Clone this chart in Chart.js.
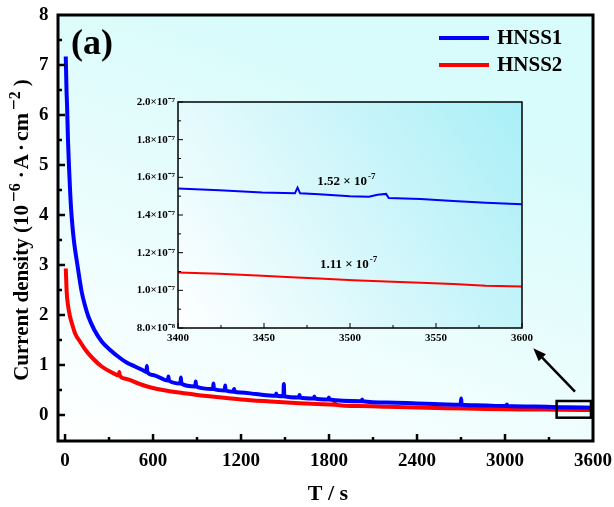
<!DOCTYPE html>
<html>
<head>
<meta charset="utf-8">
<script src="https://cdn.jsdelivr.net/npm/chart.js@4.4.1/dist/chart.umd.min.js"></script>
<style>
    html, body { margin: 0; padding: 0; background: #fff; }
    #wrap { position: relative; width: 614px; height: 507px; }
    #main { position: absolute; left: 0; top: 0; width: 614px; height: 507px; }
    #inset { position: absolute; left: 100px; top: 90px; width: 440px; height: 265px; }
</style>
</head>
<body>
<div id="wrap">
    <canvas id="main" width="614" height="507"></canvas>
    <canvas id="inset" width="440" height="265"></canvas>
</div>
<script>
// main curves: time (s) and current density (10^-6 A/cm2)
const blueT = [5, 10, 14, 20, 27, 35, 45, 60, 86, 113, 135, 159, 200, 250, 300, 370, 420, 477, 540,
    555, 558, 561, 600, 702, 705, 708, 787, 790, 793, 888, 891, 894, 1009, 1012, 1015, 1089, 1092, 1095,
    1150, 1153, 1156, 1200, 1300, 1437, 1440, 1443, 1489, 1492, 1495, 1596, 1599, 1602, 1697, 1700, 1703,
    1796, 1799, 1802, 2023, 2026, 2029, 2200, 2400, 2600, 2698, 2701, 2704, 2800, 3010, 3013, 3016,
    3200, 3400, 3600];
const blueJ = [7.17, 6.50, 6.17, 5.50, 4.97, 4.45, 3.97, 3.50, 2.97, 2.47, 2.20, 1.97, 1.70, 1.47, 1.32, 1.15, 1.05, 0.97, 0.88,
    0.86, 0.98, 0.86, 0.80, 0.69, 0.77, 0.69, 0.63, 0.75, 0.63, 0.57, 0.67, 0.57, 0.52, 0.63, 0.52, 0.49, 0.59, 0.49,
    0.465, 0.52, 0.465, 0.45, 0.42, 0.385, 0.43, 0.385, 0.375, 0.62, 0.375, 0.35, 0.40, 0.35, 0.33, 0.37, 0.33,
    0.31, 0.35, 0.31, 0.275, 0.31, 0.275, 0.25, 0.23, 0.21, 0.205, 0.33, 0.205, 0.195, 0.18, 0.21, 0.18,
    0.17, 0.155, 0.146];

const redT = [5, 8, 11, 20, 34, 50, 70, 102, 140, 190, 250, 320, 367, 370, 373, 420, 500, 600, 727, 800,
    900, 1000, 1100, 1200, 1400, 1600, 1800, 1836, 1839, 1842, 2000, 2200, 2400, 2600, 2800, 3000, 3200,
    3259, 3262, 3265, 3400, 3600];
const redJ = [2.93, 2.70, 2.47, 2.20, 1.97, 1.80, 1.62, 1.47, 1.30, 1.13, 0.97, 0.85, 0.79, 0.86, 0.79, 0.72, 0.63, 0.54, 0.47, 0.44,
    0.40, 0.37, 0.34, 0.31, 0.27, 0.235, 0.21, 0.205, 0.27, 0.205, 0.18, 0.165, 0.15, 0.135, 0.125, 0.115, 0.11,
    0.108, 0.16, 0.108, 0.105, 0.10];

// inset: 3400-3600 s, current in 10^-7 A/cm2
const insetBlueT = [3400, 3424, 3449, 3468, 3469.5, 3471, 3482, 3500, 3511, 3516, 3521, 3522.5, 3541, 3560, 3579, 3600];
const insetBlueJ = [1.541, 1.532, 1.520, 1.516, 1.545, 1.515, 1.510, 1.500, 1.497, 1.508, 1.512, 1.490, 1.485, 1.474, 1.465, 1.457];
const insetRedT = [3400, 3424, 3449, 3466, 3482, 3502, 3521, 3541, 3560, 3579, 3600];
const insetRedJ = [1.095, 1.088, 1.077, 1.070, 1.063, 1.054, 1.047, 1.040, 1.033, 1.024, 1.021];

const xTicks = [0, 600, 1200, 1800, 2400, 3000, 3600];
const yTicks = [0, 1, 2, 3, 4, 5, 6, 7, 8];
const insetXTicks = [3400, 3450, 3500, 3550, 3600];
const insetYTicks = [0.8, 1.0, 1.2, 1.4, 1.6, 1.8, 2.0];

const seriesNames = ['HNSS1', 'HNSS2'];
const seriesColors = ['#0000ff', '#ff0000'];
const insetNotes = ['1.52 × 10', '1.11 × 10'];

const SERIF = '"Liberation Serif", "Times New Roman", serif';

function pts(xs, ys) {
    return xs.map((x, i) => ({ x: x, y: ys[i] }));
}

function line(ctx, x1, y1, x2, y2) {
    ctx.beginPath();
    ctx.moveTo(x1, y1);
    ctx.lineTo(x2, y2);
    ctx.stroke();
}

// keep the plot box where the layout padding puts it
function noEdgePad(s) {
    s.paddingLeft = 0; s.paddingRight = 0; s.paddingTop = 0; s.paddingBottom = 0;
}

const mainDeco = {
    id: 'mainDeco',
    beforeDatasetsDraw(chart) {
        const { ctx, chartArea: a } = chart;
        const g = ctx.createLinearGradient(a.left, a.bottom, a.left + a.width * 0.3, a.top);
        g.addColorStop(0, '#ffffff');
        g.addColorStop(1, '#d8fbfb');
        ctx.save();
        ctx.fillStyle = g;
        ctx.fillRect(a.left, a.top, a.width, a.height);
        ctx.restore();
    },
    afterDatasetsDraw(chart) {
        const { ctx, chartArea: a } = chart;
        const xs = chart.scales.x, ys = chart.scales.y;
        ctx.save();
        ctx.strokeStyle = '#000';
        ctx.fillStyle = '#000';

        // inward ticks
        ctx.lineWidth = 2.5;
        xTicks.forEach(v => {
            if (v >= 3600) return;
            const p = xs.getPixelForValue(v);
            line(ctx, p, a.bottom, p, a.bottom - 7);
        });
        for (let v = 300; v < 3600; v += 600) {
            const p = xs.getPixelForValue(v);
            line(ctx, p, a.bottom, p, a.bottom - 4);
        }
        yTicks.forEach(v => {
            if (v >= 8) return;
            const p = ys.getPixelForValue(v);
            line(ctx, a.left, p, a.left + 7, p);
        });
        for (let v = 0.5; v < 8; v += 1) {
            const p = ys.getPixelForValue(v);
            line(ctx, a.left, p, a.left + 4, p);
        }

        // frame
        ctx.lineWidth = 3;
        ctx.strokeRect(a.left, a.top, a.width, a.height);

        // zoom box + arrow
        ctx.lineWidth = 2.5;
        const bx1 = xs.getPixelForValue(3352), bx2 = xs.getPixelForValue(3586);
        const by1 = ys.getPixelForValue(0.28), by2 = ys.getPixelForValue(-0.054);
        ctx.strokeRect(bx1, by1, bx2 - bx1, by2 - by1);
        const tx = xs.getPixelForValue(3477), ty = ys.getPixelForValue(0.466);
        const hx = xs.getPixelForValue(3193), hy = ys.getPixelForValue(1.334);
        const ang = Math.atan2(hy - ty, hx - tx);
        line(ctx, tx, ty, hx - 8 * Math.cos(ang), hy - 8 * Math.sin(ang));
        ctx.beginPath();
        ctx.moveTo(hx, hy);
        ctx.lineTo(hx - 13 * Math.cos(ang) + 5 * Math.sin(ang), hy - 13 * Math.sin(ang) - 5 * Math.cos(ang));
        ctx.lineTo(hx - 13 * Math.cos(ang) - 5 * Math.sin(ang), hy - 13 * Math.sin(ang) + 5 * Math.cos(ang));
        ctx.closePath();
        ctx.fill();

        // legend
        ctx.lineWidth = 4;
        ctx.font = 'bold 21px ' + SERIF;
        ctx.textAlign = 'left';
        ctx.textBaseline = 'middle';
        seriesNames.forEach((n, i) => {
            const yy = 38 + i * 27;
            ctx.strokeStyle = seriesColors[i];
            line(ctx, 439, yy, 489, yy);
            ctx.fillText(n, 497, yy + 1);
        });

        // panel label
        ctx.font = 'bold 36px ' + SERIF;
        ctx.textBaseline = 'alphabetic';
        ctx.fillText('(a)', 71, 54);

        // x title
        ctx.font = 'bold 22px ' + SERIF;
        ctx.textAlign = 'center';
        ctx.textBaseline = 'middle';
        ctx.fillText('T / s', 328, 494);

        // y title with superscripts: [text, size, raise, gap before]
        const parts = [
            ['Current density (10', 21, 0, 0],
            ['\u2212', 19, -8, 3],
            ['6', 16, -8, 0],
            ['\u00b7', 21, 0, 5],
            ['A', 21, 0, 2],
            ['\u00b7', 21, 0, 3],
            ['cm', 22, 0, 3],
            ['\u2212', 19, -8, 3],
            ['2', 16, -8, 0],
            [')', 21, 0, 5]
        ];
        ctx.textAlign = 'left';
        ctx.textBaseline = 'alphabetic';
        let total = 0;
        parts.forEach(p => {
            ctx.font = 'bold ' + p[1] + 'px ' + SERIF;
            total += ctx.measureText(p[0]).width + p[3];
        });
        ctx.translate(21, 230);
        ctx.rotate(-Math.PI / 2);
        let cx = -total / 2;
        parts.forEach(p => {
            ctx.font = 'bold ' + p[1] + 'px ' + SERIF;
            cx += p[3];
            ctx.fillText(p[0], cx, 7 + p[2]);
            cx += ctx.measureText(p[0]).width;
        });
        ctx.restore();
    }
};

new Chart(document.getElementById('main').getContext('2d'), {
    type: 'line',
    data: {
        datasets: [
            { label: seriesNames[0], data: pts(blueT, blueJ), borderColor: seriesColors[0], borderWidth: 4 },
            { label: seriesNames[1], data: pts(redT, redJ), borderColor: seriesColors[1], borderWidth: 4 }
        ]
    },
    options: {
        responsive: false,
        animation: false,
        parsing: false,
        layout: { padding: { top: 15, right: 21, left: 0, bottom: 0 } },
        elements: { point: { radius: 0 }, line: { cubicInterpolationMode: 'monotone' } },
        plugins: { legend: { display: false }, tooltip: { enabled: false } },
        scales: {
            x: {
                type: 'linear', min: -48, max: 3600,
                grid: { display: false, drawTicks: false },
                border: { display: false },
                afterBuildTicks: s => { s.ticks = xTicks.map(v => ({ value: v })); },
                afterFit: s => { s.height = 66; noEdgePad(s); },
                ticks: { autoSkip: false, maxRotation: 0, padding: 9, color: '#000',
                    font: { family: SERIF, size: 19, weight: 'bold' },
                    callback: v => String(v) }
            },
            y: {
                type: 'linear', min: -0.52, max: 8,
                grid: { display: false, drawTicks: false },
                border: { display: false },
                afterBuildTicks: s => { s.ticks = yTicks.map(v => ({ value: v })); },
                afterFit: s => { s.width = 58; noEdgePad(s); },
                ticks: { autoSkip: false, padding: 9.5, color: '#000',
                    font: { family: SERIF, size: 19, weight: 'bold' },
                    callback: v => String(v) }
            }
        }
    },
    plugins: [mainDeco]
});

const insetDeco = {
    id: 'insetDeco',
    beforeDatasetsDraw(chart) {
        const { ctx, chartArea: a } = chart;
        const g = ctx.createLinearGradient(a.left, a.bottom, a.right, a.top);
        g.addColorStop(0, '#ffffff');
        g.addColorStop(1, '#a9eff7');
        ctx.save();
        ctx.fillStyle = g;
        ctx.fillRect(a.left, a.top, a.width, a.height);
        ctx.restore();
    },
    afterDatasetsDraw(chart) {
        const { ctx, chartArea: a } = chart;
        const xs = chart.scales.x, ys = chart.scales.y;
        ctx.save();
        ctx.strokeStyle = '#000';
        ctx.fillStyle = '#000';
        ctx.lineWidth = 1;
        insetXTicks.forEach(v => {
            const p = xs.getPixelForValue(v);
            line(ctx, p, a.bottom, p, a.bottom - 5);
        });
        for (let v = 3425; v < 3600; v += 50) {
            const p = xs.getPixelForValue(v);
            line(ctx, p, a.bottom, p, a.bottom - 3);
        }
        insetYTicks.forEach(v => {
            const p = ys.getPixelForValue(v);
            line(ctx, a.left, p, a.left + 5, p);
        });
        for (let v = 0.9; v < 2.0; v += 0.2) {
            const p = ys.getPixelForValue(v);
            line(ctx, a.left, p, a.left + 3, p);
        }
        ctx.lineWidth = 1.5;
        ctx.strokeRect(a.left, a.top, a.width, a.height);

        // value notes
        const notePos = [[3481, 1.559], [3482.5, 1.121]];
        ctx.textAlign = 'left';
        ctx.textBaseline = 'alphabetic';
        insetNotes.forEach((t, i) => {
            const px = xs.getPixelForValue(notePos[i][0]);
            const py = ys.getPixelForValue(notePos[i][1]);
            ctx.font = 'bold 13px ' + SERIF;
            ctx.fillText(t, px, py);
            const w = ctx.measureText(t).width;
            ctx.font = 'bold 9px ' + SERIF;
            ctx.fillText('-7', px + w + 1, py - 6);
        });
        ctx.restore();
    }
};

const supDigits = { '7': '\u2077', '8': '\u2078' };

new Chart(document.getElementById('inset').getContext('2d'), {
    type: 'line',
    data: {
        datasets: [
            { label: seriesNames[0], data: pts(insetBlueT, insetBlueJ), borderColor: seriesColors[0], borderWidth: 2 },
            { label: seriesNames[1], data: pts(insetRedT, insetRedJ), borderColor: seriesColors[1], borderWidth: 2 }
        ]
    },
    options: {
        responsive: false,
        animation: false,
        parsing: false,
        layout: { padding: { top: 12, right: 18, left: 0, bottom: 0 } },
        elements: { point: { radius: 0 }, line: { tension: 0 } },
        plugins: { legend: { display: false }, tooltip: { enabled: false } },
        scales: {
            x: {
                type: 'linear', min: 3400, max: 3600,
                grid: { display: false, drawTicks: false },
                border: { display: false },
                afterBuildTicks: s => { s.ticks = insetXTicks.map(v => ({ value: v })); },
                afterFit: s => { s.height = 27; noEdgePad(s); },
                ticks: { autoSkip: false, maxRotation: 0, padding: 4, color: '#000',
                    font: { family: SERIF, size: 11, weight: 'bold' },
                    callback: v => String(v) }
            },
            y: {
                type: 'linear', min: 0.8, max: 2.0,
                grid: { display: false, drawTicks: false },
                border: { display: false },
                afterBuildTicks: s => { s.ticks = insetYTicks.map(v => ({ value: v })); },
                afterFit: s => { s.width = 78; noEdgePad(s); },
                ticks: {
                    autoSkip: false, padding: 3, color: '#000',
                    font: { family: SERIF, size: 11, weight: 'bold' },
                    callback: v => v < 1 ? (v * 10).toFixed(1) + '×10\u207b' + supDigits['8']
                                         : v.toFixed(1) + '×10\u207b' + supDigits['7']
                }
            }
        }
    },
    plugins: [insetDeco]
});
</script>
</body>
</html>
